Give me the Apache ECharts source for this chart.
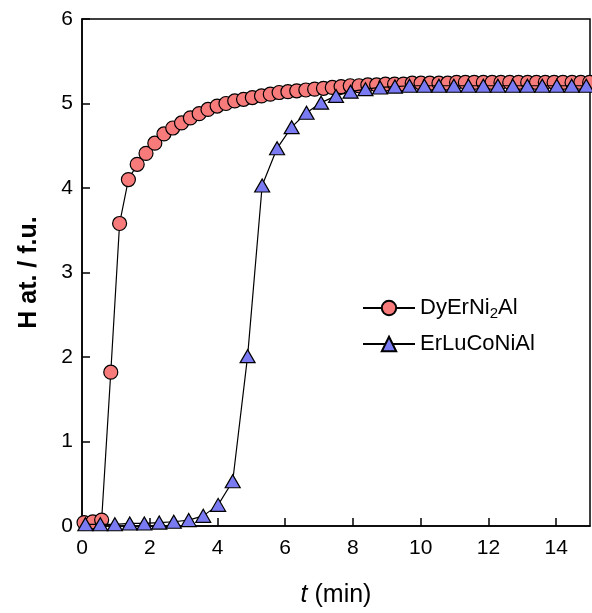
<!DOCTYPE html>
<html>
<head>
<meta charset="utf-8">
<script src="https://cdn.jsdelivr.net/npm/echarts@6/dist/echarts.min.js"></script>
<style>
  html, body { margin: 0; padding: 0; background: #fff; }
  #chart { width: 592px; height: 613px; }
</style>
</head>
<body>
<div id="chart"></div>
<script>
// DyErNi2Al  (t in min, H at. / f.u.)
const dyTime = [0.06, 0.32, 0.58, 0.85, 1.11, 1.37, 1.63, 1.89, 2.15, 2.42, 2.68, 2.94, 3.20, 3.46, 3.72, 3.99,
  4.25, 4.51, 4.77, 5.03, 5.30, 5.56, 5.82, 6.08, 6.34, 6.61, 6.87, 7.13, 7.39, 7.65, 7.92, 8.18, 8.44, 8.70,
  8.96, 9.23, 9.49, 9.75, 10.01, 10.27, 10.54, 10.80, 11.06, 11.32, 11.58, 11.85, 12.11, 12.37, 12.63, 12.89,
  13.16, 13.42, 13.68, 13.94, 14.20, 14.47, 14.73, 14.99];
const dyH = [0.04, 0.05, 0.07, 1.82, 3.58, 4.10, 4.28, 4.41, 4.53, 4.64, 4.71, 4.77, 4.83, 4.88, 4.93, 4.97,
  5.00, 5.03, 5.05, 5.07, 5.09, 5.11, 5.13, 5.14, 5.15, 5.16, 5.17, 5.18, 5.19, 5.20, 5.21, 5.21, 5.22, 5.22,
  5.23, 5.23, 5.23, 5.24, 5.24, 5.24, 5.24, 5.24, 5.25, 5.25, 5.25, 5.25, 5.25, 5.25, 5.25, 5.25,
  5.25, 5.25, 5.25, 5.25, 5.25, 5.25, 5.25, 5.25];

// ErLuCoNiAl
const erTime = [0.10, 0.54, 0.97, 1.41, 1.84, 2.28, 2.71, 3.15, 3.58, 4.02, 4.45, 4.89, 5.32, 5.76, 6.19, 6.63,
  7.06, 7.50, 7.93, 8.37, 8.80, 9.24, 9.67, 10.11, 10.54, 10.98, 11.41, 11.85, 12.28, 12.72, 13.15, 13.59,
  14.02, 14.46, 14.89];
const erH = [0.02, 0.02, 0.02, 0.03, 0.03, 0.04, 0.05, 0.07, 0.12, 0.25, 0.53, 2.01, 4.03, 4.47, 4.72, 4.89,
  5.01, 5.09, 5.14, 5.17, 5.19, 5.20, 5.21, 5.21, 5.21, 5.21, 5.21, 5.21, 5.21, 5.21, 5.21, 5.21,
  5.21, 5.21, 5.21];

const seriesNames = ['DyErNi2Al', 'ErLuCoNiAl'];
const xTicks = { min: 0, max: 15, step: 2 };
const yTicks = { min: 0, max: 6, step: 1 };

const font = 'Liberation Sans, Arial, sans-serif';
const chart = echarts.init(document.getElementById('chart'));

const zip = (xs, ys) => xs.map((x, i) => [x, ys[i]]);

chart.setOption({
  animation: false,
  grid: {
    left: 82, right: 2, top: 19, bottom: 84,
    show: true, borderColor: '#000', borderWidth: 1.5, backgroundColor: 'transparent'
  },
  legend: {
    orient: 'vertical',
    left: 357, top: 292,
    itemWidth: 52, itemHeight: 18, itemGap: 12,
    data: seriesNames,
    textStyle: {
      fontFamily: font, fontSize: 22, color: '#000',
      rich: {
        a: { fontFamily: font, fontSize: 22, color: '#000' },
        s: { fontFamily: font, fontSize: 15, color: '#000', verticalAlign: 'bottom', padding: [11, 0, 0, 0] }
      }
    },
    formatter: function (name) {
      if (name === 'DyErNi2Al') return '{a|DyErNi}{s|2}{a|Al}';
      return '{a|' + name + '}';
    }
  },
  xAxis: {
    type: 'value',
    min: xTicks.min, max: xTicks.max, interval: xTicks.step,
    name: '{i|t}{n| (min)}',
    nameLocation: 'middle', nameGap: 57,
    nameTextStyle: {
      rich: {
        i: { fontFamily: font, fontSize: 25, fontStyle: 'italic', color: '#000' },
        n: { fontFamily: font, fontSize: 25, color: '#000' }
      }
    },
    axisLine: { lineStyle: { color: '#000', width: 1.5 } },
    axisTick: { inside: true, length: 8, lineStyle: { color: '#000', width: 1.5 } },
    axisLabel: { fontFamily: font, fontSize: 21, color: '#000', margin: 12, showMaxLabel: false },
    splitLine: { show: false }
  },
  yAxis: {
    type: 'value',
    min: yTicks.min, max: yTicks.max, interval: yTicks.step,
    name: 'H at. / f.u.',
    nameLocation: 'middle', nameGap: 40,
    nameTextStyle: { fontFamily: font, fontSize: 25, fontWeight: 'bold', color: '#000' },
    axisLine: { lineStyle: { color: '#000', width: 1.5 } },
    axisTick: { inside: true, length: 8, lineStyle: { color: '#000', width: 1.5 } },
    axisLabel: { fontFamily: font, fontSize: 21, color: '#000', margin: 9 },
    splitLine: { show: false }
  },
  series: [
    {
      name: seriesNames[0],
      type: 'line',
      data: zip(dyTime, dyH),
      symbol: 'circle', symbolSize: 14,
      lineStyle: { color: '#000', width: 1.2 },
      itemStyle: { color: '#f77b7b', borderColor: '#000', borderWidth: 1.2 },
      z: 2
    },
    {
      name: seriesNames[1],
      type: 'line',
      data: zip(erTime, erH),
      symbol: 'triangle', symbolSize: [15, 13],
      lineStyle: { color: '#000', width: 1.2 },
      itemStyle: { color: '#7a7af2', borderColor: '#000', borderWidth: 1.2 },
      z: 3
    }
  ]
});
</script>
</body>
</html>
